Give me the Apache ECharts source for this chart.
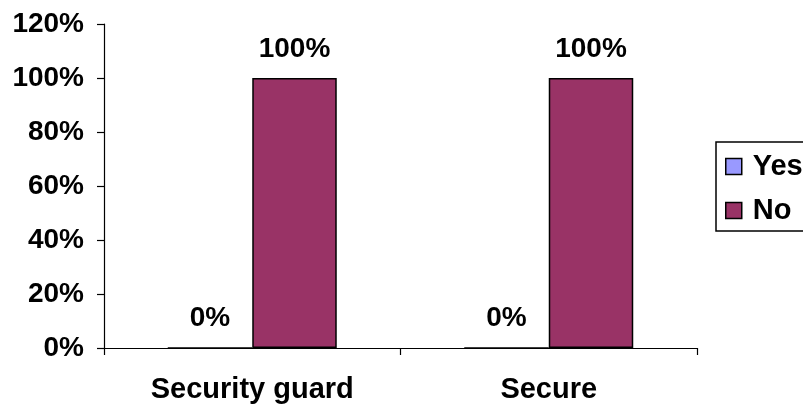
<!DOCTYPE html>
<html>
<head>
<meta charset="utf-8">
<script src="https://cdn.jsdelivr.net/npm/echarts@6/dist/echarts.min.js"></script>
<style>
html,body{margin:0;padding:0;background:#fff;}
#chart{width:803px;height:404px;}
</style>
</head>
<body>
<div id="chart"></div>
<script>
var categories = ['Security guard', 'Secure'];
var seriesNames = ['Yes', 'No'];
var yesValues = [0, 0];
var noValues = [100, 100];
var yTicks = [0, 20, 40, 60, 80, 100, 120];

var FONT = '"Liberation Sans", Arial, sans-serif';
var chart = echarts.init(document.getElementById('chart'), null, {renderer: 'canvas'});
var labelStyle = {
  show: true, position: 'top', distance: 15,
  formatter: function (p) { return p.value + '%'; },
  fontFamily: FONT, fontWeight: 'bold', fontSize: 28, color: '#000'
};
chart.setOption({
  animation: false,
  backgroundColor: '#fff',
  grid: {left: 104, right: 106, top: 24, bottom: 56},
  legend: {
    orient: 'vertical', left: 716, top: 142,
    data: seriesNames,
    itemWidth: 16, itemHeight: 16, itemGap: 15,
    padding: [10, 15, 6, 9],
    borderColor: '#000', borderWidth: 1.5,
    icon: 'rect',
    itemStyle: {borderColor: '#000', borderWidth: 1.5},
    textStyle: {fontFamily: FONT, fontWeight: 'bold', fontSize: 29, color: '#000', padding: [0, 0, 0, 6]}
  },
  xAxis: {
    type: 'category', data: categories,
    axisLine: {lineStyle: {color: '#000', width: 1.2}},
    axisTick: {show: true, length: 7, lineStyle: {color: '#000', width: 1.2}},
    axisLabel: {margin: 27, fontFamily: FONT, fontWeight: 'bold', fontSize: 29, color: '#000'}
  },
  yAxis: {
    type: 'value', min: yTicks[0], max: yTicks[yTicks.length - 1], interval: 20,
    axisLine: {show: true, lineStyle: {color: '#000', width: 1.2}},
    axisTick: {show: true, length: 7, lineStyle: {color: '#000', width: 1.2}},
    splitLine: {show: false},
    axisLabel: {margin: 20, formatter: '{value}%', fontFamily: FONT, fontWeight: 'bold', fontSize: 28, color: '#000'}
  },
  series: [
    {name: seriesNames[0], type: 'bar', data: yesValues, barGap: '0%', barCategoryGap: '43%',
     itemStyle: {color: '#9999FF', borderColor: '#000', borderWidth: 1.5}, label: labelStyle},
    {name: seriesNames[1], type: 'bar', data: noValues, barGap: '0%', barCategoryGap: '43%',
     itemStyle: {color: '#993366', borderColor: '#000', borderWidth: 1.5}, label: labelStyle}
  ]
});
</script>
</body>
</html>
